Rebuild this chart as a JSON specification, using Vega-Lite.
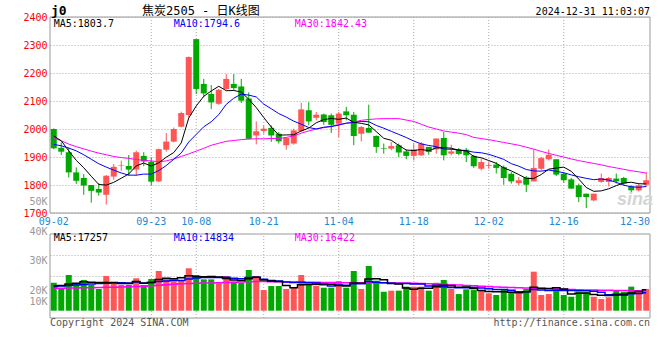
{
"$schema": "https://vega.github.io/schema/vega-lite/v6.json",
"width": 600, "height": 301,
"autosize": "none",
"padding": {"left": 50, "top": 17, "right": 10, "bottom": 42},
"background": "white",
"config": {"view": {"stroke": null}, "axis": {"labelFont": "DejaVu Sans Mono", "labelFontSize": 10, "ticks": false, "domain": false}, "text": {"font": "DejaVu Sans Mono", "fontSize": 10, "baseline": "middle"}},
"datasets": {
"k": [
{"d":"09-02","o":2000,"h":2002,"l":1928,"c":1931,"m5":1975,"m10":1945,"m30":1968,"v":23000,"vm5":20500,"vm10":20000,"vm30":18400},
{"d":"09-03","o":1933,"h":1952,"l":1907,"c":1919,"m5":1958,"m10":1940,"m30":1958,"v":18400,"vm5":20800,"vm10":20300,"vm30":18500},
{"d":"09-04","o":1917,"h":1934,"l":1827,"c":1845,"m5":1922,"m10":1932,"m30":1946,"v":29400,"vm5":22000,"vm10":20800,"vm30":18600},
{"d":"09-05","o":1845,"h":1863,"l":1804,"c":1815,"m5":1888,"m10":1922,"m30":1937,"v":22600,"vm5":22500,"vm10":21200,"vm30":18700},
{"d":"09-06","o":1825,"h":1839,"l":1765,"c":1798,"m5":1861.6,"m10":1908,"m30":1929,"v":25300,"vm5":23740,"vm10":21600,"vm30":18800},
{"d":"09-09","o":1800,"h":1800,"l":1737,"c":1779,"m5":1831.2,"m10":1892,"m30":1921,"v":21200,"vm5":23380,"vm10":22000,"vm30":18900},
{"d":"09-10","o":1786,"h":1807,"l":1762,"c":1773,"m5":1802,"m10":1876,"m30":1914,"v":17900,"vm5":23280,"vm10":22300,"vm30":19000},
{"d":"09-11","o":1765,"h":1836,"l":1730,"c":1833,"m5":1799.6,"m10":1864,"m30":1908,"v":28600,"vm5":23120,"vm10":22600,"vm30":19200},
{"d":"09-12","o":1830,"h":1875,"l":1819,"c":1865,"m5":1809.6,"m10":1853,"m30":1902,"v":22600,"vm5":23120,"vm10":22800,"vm30":19400},
{"d":"09-13","o":1869,"h":1887,"l":1851,"c":1871,"m5":1824.2,"m10":1842.9,"m30":1898,"v":21200,"vm5":22300,"vm10":23020,"vm30":19600},
{"d":"09-18","o":1868,"h":1907,"l":1833,"c":1855,"m5":1839.4,"m10":1835.3,"m30":1895,"v":21200,"vm5":22300,"vm10":22840,"vm30":19800},
{"d":"09-19","o":1855,"h":1923,"l":1833,"c":1917,"m5":1868.2,"m10":1835.1,"m30":1891,"v":26700,"vm5":24060,"vm10":23670,"vm30":20000},
{"d":"09-20","o":1904,"h":1917,"l":1867,"c":1884,"m5":1878.4,"m10":1839,"m30":1888,"v":21200,"vm5":22580,"vm10":22850,"vm30":20200},
{"d":"09-23","o":1883,"h":1899,"l":1798,"c":1812,"m5":1867.8,"m10":1838.7,"m30":1886,"v":26100,"vm5":23280,"vm10":23200,"vm30":20500},
{"d":"09-24","o":1813,"h":1930,"l":1810,"c":1928,"m5":1879.2,"m10":1851.7,"m30":1883,"v":32700,"vm5":25580,"vm10":23940,"vm30":20900},
{"d":"09-25","o":1926,"h":1986,"l":1919,"c":1955,"m5":1899.2,"m10":1869.3,"m30":1886,"v":26700,"vm5":26680,"vm10":24490,"vm30":21300},
{"d":"09-26","o":1955,"h":2005,"l":1952,"c":2000,"m5":1915.8,"m10":1892,"m30":1893,"v":24400,"vm5":26220,"vm10":25140,"vm30":21700},
{"d":"09-27","o":2008,"h":2062,"l":2006,"c":2057,"m5":1950.4,"m10":1914.4,"m30":1902,"v":25300,"vm5":27040,"vm10":24810,"vm30":22100},
{"d":"09-30","o":2050,"h":2259,"l":2042,"c":2257,"m5":2039.4,"m10":1953.6,"m30":1911,"v":34900,"vm5":28800,"vm10":26040,"vm30":22400},
{"d":"10-08","o":2321,"h":2321,"l":2125,"c":2143,"m5":2082.4,"m10":1980.8,"m30":1921,"v":29400,"vm5":28140,"vm10":26860,"vm30":22600},
{"d":"10-09","o":2161,"h":2179,"l":2113,"c":2127,"m5":2116.8,"m10":2008,"m30":1931,"v":25800,"vm5":27960,"vm10":27320,"vm30":22700},
{"d":"10-10","o":2125,"h":2157,"l":2071,"c":2095,"m5":2135.8,"m10":2025.8,"m30":1942,"v":25800,"vm5":28240,"vm10":27230,"vm30":22800},
{"d":"10-11","o":2090,"h":2143,"l":2087,"c":2140,"m5":2152.4,"m10":2051.4,"m30":1949,"v":22600,"vm5":27700,"vm10":27370,"vm30":23000},
{"d":"10-14","o":2143,"h":2196,"l":2140,"c":2179,"m5":2136.8,"m10":2088.1,"m30":1956,"v":28600,"vm5":26440,"vm10":27620,"vm30":23200},
{"d":"10-15","o":2161,"h":2196,"l":2137,"c":2146,"m5":2137.4,"m10":2109.9,"m30":1959,"v":23900,"vm5":25340,"vm10":26740,"vm30":23500},
{"d":"10-16","o":2152,"h":2179,"l":2093,"c":2101,"m5":2132.2,"m10":2124.5,"m30":1962,"v":23000,"vm5":24780,"vm10":26370,"vm30":23700},
{"d":"10-17","o":2109,"h":2131,"l":1963,"c":1965,"m5":2106.2,"m10":2121,"m30":1964,"v":33500,"vm5":26320,"vm10":27280,"vm30":23900},
{"d":"10-18","o":1977,"h":2027,"l":1945,"c":1992,"m5":2076.6,"m10":2114.5,"m30":1965,"v":28600,"vm5":27520,"vm10":27610,"vm30":24000},
{"d":"10-21","o":1993,"h":2013,"l":1983,"c":2001,"m5":2041,"m10":2088.9,"m30":1965,"v":17000,"vm5":25200,"vm10":25820,"vm30":24000},
{"d":"10-22","o":2004,"h":2013,"l":1954,"c":1977,"m5":2007.2,"m10":2072.3,"m30":1966,"v":20300,"vm5":24480,"vm10":24910,"vm30":23900},
{"d":"10-23","o":1983,"h":1989,"l":1948,"c":1956,"m5":1978.2,"m10":2055.2,"m30":1966,"v":20300,"vm5":23940,"vm10":24360,"vm30":23800},
{"d":"10-24","o":1942,"h":1971,"l":1926,"c":1968,"m5":1978.8,"m10":2042.5,"m30":1970,"v":17900,"vm5":20820,"vm10":23570,"vm30":23700},
{"d":"10-25","o":1948,"h":2001,"l":1944,"c":1995,"m5":1979.4,"m10":2028,"m30":1975,"v":19300,"vm5":18960,"vm10":23240,"vm30":23600},
{"d":"10-28","o":1992,"h":2094,"l":1989,"c":2070,"m5":1993.2,"m10":2017.1,"m30":1985,"v":29400,"vm5":21440,"vm10":23320,"vm30":23500},
{"d":"10-29","o":2067,"h":2096,"l":2013,"c":2027,"m5":2003.2,"m10":2005.2,"m30":1993,"v":21200,"vm5":21620,"vm10":23050,"vm30":23500},
{"d":"10-30","o":2040,"h":2061,"l":2031,"c":2051,"m5":2022.2,"m10":2000.2,"m30":2000,"v":20600,"vm5":21680,"vm10":22810,"vm30":23400},
{"d":"10-31","o":2052,"h":2055,"l":2015,"c":2025,"m5":2033.6,"m10":2006.2,"m30":2005,"v":18900,"vm5":21880,"vm10":21350,"vm30":23300},
{"d":"11-01","o":2049,"h":2055,"l":1986,"c":2015,"m5":2037.6,"m10":2008.5,"m30":2010,"v":18900,"vm5":21800,"vm10":20380,"vm30":23200},
{"d":"11-04","o":2019,"h":2061,"l":1971,"c":2055,"m5":2034.6,"m10":2013.9,"m30":2016,"v":24400,"vm5":20800,"vm10":21120,"vm30":23100},
{"d":"11-05","o":2063,"h":2079,"l":2031,"c":2049,"m5":2039,"m10":2021.1,"m30":2020,"v":18900,"vm5":20340,"vm10":20980,"vm30":23000},
{"d":"11-06","o":2051,"h":2061,"l":1942,"c":1975,"m5":2023.8,"m10":2023,"m30":2025,"v":32700,"vm5":22760,"vm10":22220,"vm30":23000},
{"d":"11-07","o":1983,"h":2011,"l":1956,"c":2007,"m5":2020.2,"m10":2026.9,"m30":2031,"v":17900,"vm5":22560,"vm10":22220,"vm30":23000},
{"d":"11-08","o":2004,"h":2087,"l":1987,"c":1987,"m5":2014.6,"m10":2026.1,"m30":2034,"v":36800,"vm5":26140,"vm10":23970,"vm30":23100},
{"d":"11-11","o":1975,"h":1977,"l":1915,"c":1936,"m5":1990.8,"m10":2012.7,"m30":2036,"v":24700,"vm5":26200,"vm10":23500,"vm30":23100},
{"d":"11-12","o":1931,"h":1948,"l":1912,"c":1929,"m5":1966.8,"m10":2002.9,"m30":2037,"v":15600,"vm5":25540,"vm10":22940,"vm30":23000},
{"d":"11-13","o":1930,"h":1954,"l":1924,"c":1939,"m5":1959.6,"m10":1991.7,"m30":2037,"v":16500,"vm5":22300,"vm10":22530,"vm30":22900},
{"d":"11-14","o":1942,"h":1948,"l":1900,"c":1916,"m5":1941.4,"m10":1980.8,"m30":2037,"v":16500,"vm5":22020,"vm10":22290,"vm30":22800},
{"d":"11-15","o":1920,"h":1927,"l":1892,"c":1904,"m5":1924.8,"m10":1969.7,"m30":2032,"v":19800,"vm5":18620,"vm10":22380,"vm30":22700},
{"d":"11-18","o":1904,"h":1948,"l":1888,"c":1927,"m5":1923,"m10":1956.9,"m30":2027,"v":19800,"vm5":17640,"vm10":21920,"vm30":22600},
{"d":"11-19","o":1906,"h":1954,"l":1904,"c":1948,"m5":1926.8,"m10":1946.8,"m30":2017,"v":19800,"vm5":18480,"vm10":22010,"vm30":22400},
{"d":"11-20","o":1936,"h":1936,"l":1908,"c":1918,"m5":1922.6,"m10":1941.1,"m30":2007,"v":16500,"vm5":18480,"vm10":20390,"vm30":22200},
{"d":"11-21","o":1927,"h":1966,"l":1912,"c":1966,"m5":1932.6,"m10":1937,"m30":2000,"v":23000,"vm5":19780,"vm10":20900,"vm30":22000},
{"d":"11-22","o":1968,"h":1989,"l":1888,"c":1906,"m5":1933,"m10":1928.9,"m30":1993,"v":25300,"vm5":20880,"vm10":19750,"vm30":21700},
{"d":"11-25","o":1912,"h":1944,"l":1906,"c":1920,"m5":1931.6,"m10":1927.3,"m30":1989,"v":17900,"vm5":20500,"vm10":19070,"vm30":21400},
{"d":"11-26","o":1926,"h":1932,"l":1906,"c":1911,"m5":1924.2,"m10":1925.5,"m30":1985,"v":13700,"vm5":19280,"vm10":18880,"vm30":21100},
{"d":"11-27","o":1926,"h":1932,"l":1882,"c":1906,"m5":1921.8,"m10":1922.2,"m30":1980,"v":17600,"vm5":19500,"vm10":18990,"vm30":20800},
{"d":"11-28","o":1904,"h":1908,"l":1861,"c":1867,"m5":1902,"m10":1917.3,"m30":1970,"v":17000,"vm5":18300,"vm10":19040,"vm30":20500},
{"d":"11-29","o":1858,"h":1894,"l":1852,"c":1882,"m5":1897.2,"m10":1915.1,"m30":1966,"v":16500,"vm5":16540,"vm10":18710,"vm30":20200},
{"d":"12-02","o":1868,"h":1882,"l":1858,"c":1871,"m5":1887.4,"m10":1909.5,"m30":1962,"v":14300,"vm5":15820,"vm10":18160,"vm30":19900},
{"d":"12-03","o":1873,"h":1882,"l":1841,"c":1861,"m5":1877.4,"m10":1900.8,"m30":1957,"v":12900,"vm5":15660,"vm10":17470,"vm30":19600},
{"d":"12-04","o":1864,"h":1870,"l":1801,"c":1825,"m5":1861.2,"m10":1891.5,"m30":1952,"v":17000,"vm5":15540,"vm10":17520,"vm30":19300},
{"d":"12-05","o":1840,"h":1846,"l":1805,"c":1813,"m5":1850.4,"m10":1876.2,"m30":1947,"v":15600,"vm5":15260,"vm10":16780,"vm30":19000},
{"d":"12-06","o":1807,"h":1829,"l":1799,"c":1817,"m5":1837.4,"m10":1867.3,"m30":1942,"v":14300,"vm5":14820,"vm10":15680,"vm30":18800},
{"d":"12-09","o":1827,"h":1832,"l":1775,"c":1801,"m5":1823.4,"m10":1855.4,"m30":1935,"v":17900,"vm5":15540,"vm10":15680,"vm30":18600},
{"d":"12-10","o":1813,"h":1927,"l":1813,"c":1861,"m5":1823.4,"m10":1850.4,"m30":1928,"v":32100,"vm5":19380,"vm10":17520,"vm30":18400},
{"d":"12-11","o":1858,"h":1900,"l":1852,"c":1896,"m5":1837.6,"m10":1849.4,"m30":1920,"v":12900,"vm5":18560,"vm10":17050,"vm30":18200},
{"d":"12-12","o":1892,"h":1927,"l":1888,"c":1908,"m5":1856.6,"m10":1853.5,"m30":1913,"v":13700,"vm5":18180,"vm10":16720,"vm30":18000},
{"d":"12-13","o":1892,"h":1892,"l":1832,"c":1837,"m5":1860.6,"m10":1849,"m30":1906,"v":17900,"vm5":18900,"vm10":16860,"vm30":17800},
{"d":"12-16","o":1840,"h":1846,"l":1808,"c":1817,"m5":1863.8,"m10":1843.6,"m30":1900,"v":12900,"vm5":17900,"vm10":16720,"vm30":17600},
{"d":"12-17","o":1820,"h":1825,"l":1787,"c":1787,"m5":1849,"m10":1836.2,"m30":1893,"v":11500,"vm5":13780,"vm10":16580,"vm30":17400},
{"d":"12-18","o":1799,"h":1805,"l":1739,"c":1757,"m5":1821.2,"m10":1829.4,"m30":1887,"v":15600,"vm5":14320,"vm10":16440,"vm30":17200},
{"d":"12-19","o":1769,"h":1769,"l":1718,"c":1757,"m5":1791,"m10":1823.8,"m30":1882,"v":15100,"vm5":14600,"vm10":16390,"vm30":17100},
{"d":"12-20","o":1745,"h":1769,"l":1742,"c":1769,"m5":1777.4,"m10":1819,"m30":1877,"v":11500,"vm5":13320,"vm10":16110,"vm30":17000},
{"d":"12-23","o":1811,"h":1841,"l":1808,"c":1825,"m5":1779,"m10":1821.4,"m30":1872,"v":9600,"vm5":12660,"vm10":15280,"vm30":16900},
{"d":"12-24","o":1811,"h":1829,"l":1795,"c":1825,"m5":1786.6,"m10":1817.8,"m30":1866,"v":11000,"vm5":12560,"vm10":13170,"vm30":16800},
{"d":"12-25","o":1823,"h":1841,"l":1805,"c":1813,"m5":1797.8,"m10":1809.5,"m30":1861,"v":17000,"vm5":12840,"vm10":13580,"vm30":16700},
{"d":"12-26","o":1825,"h":1829,"l":1799,"c":1805,"m5":1807.4,"m10":1799.2,"m30":1856,"v":15600,"vm5":12940,"vm10":13770,"vm30":16600},
{"d":"12-27","o":1795,"h":1799,"l":1775,"c":1781,"m5":1809.8,"m10":1793.6,"m30":1851,"v":19800,"vm5":14600,"vm10":13960,"vm30":16500},
{"d":"12-30","o":1781,"h":1805,"l":1777,"c":1799,"m5":1804.6,"m10":1791.8,"m30":1847,"v":15600,"vm5":15800,"vm10":14230,"vm30":16450},
{"d":"12-31","o":1801,"h":1846,"l":1793,"c":1817,"m5":1803.7,"m10":1794.6,"m30":1842.43,"v":17900,"vm5":17257,"vm10":14834,"vm30":16422}
],
"grid": [{"d":"09-23"},{"d":"10-08"},{"d":"10-21"},{"d":"11-04"},{"d":"11-18"},{"d":"12-02"},{"d":"12-16"}],
"labels": [{"d":"09-02"},{"d":"09-23"},{"d":"10-08"},{"d":"10-21"},{"d":"11-04"},{"d":"11-18"},{"d":"12-02"},{"d":"12-16"}],
"one": [{"n": 1}]
},
"layer": [
    {"data": {"name": "one"}, "mark": {"type": "rect", "fillOpacity": 0, "stroke": "#999999", "strokeWidth": 1},
     "encoding": {"x": {"datum": "09-02", "type": "ordinal", "bandPosition": 0, "scale": {"type": "band", "paddingInner": 0, "paddingOuter": 0}, "axis": null}, "x2": {"datum": "12-31", "bandPosition": 1},
       "y": {"datum": 2400, "type": "quantitative", "scale": {"domain": [1700, 2400], "range": [196, 0], "zero": false, "nice": false},
         "axis": {"title": null, "orient": "left", "values": [1700,1800,1900,2000,2100,2200,2300,2400], "format": "d", "labelColor": "#ff0000", "labelPadding": 3, "labelOverlap": false, "grid": true, "gridColor": "#aaaaaa", "gridDash": [1, 2]}},
       "y2": {"datum": 1700}}},
    {"data": {"name": "one"}, "mark": {"type": "rect", "fillOpacity": 0, "stroke": "#999999", "strokeWidth": 1},
     "encoding": {"x": {"datum": "09-02", "type": "ordinal", "bandPosition": 0, "axis": null}, "x2": {"datum": "12-31", "bandPosition": 1},
       "y": {"datum": 4, "type": "quantitative", "scale": {"domain": [0, 4], "range": [301, 217], "zero": false, "nice": false},
         "axis": {"title": null, "orient": "left", "values": [1, 2, 3], "labels": false, "grid": true, "gridColor": "#aaaaaa", "gridDash": [1, 2]}},
       "y2": {"datum": 0}}},
    {"data": {"name": "grid"}, "mark": {"type": "rule", "color": "#aaaaaa", "strokeDash": [1, 2]},
     "encoding": {"x": {"field": "d", "type": "ordinal", "axis": null},
       "y": {"datum": 1700, "type": "quantitative", "scale": {"domain": [1700, 2400], "range": [196, 0], "zero": false, "nice": false}, "axis": null}, "y2": {"datum": 2400}}},
    {"data": {"name": "grid"}, "mark": {"type": "rule", "color": "#aaaaaa", "strokeDash": [1, 2]},
     "encoding": {"x": {"field": "d", "type": "ordinal", "axis": null}, "y": {"datum": 0, "type": "quantitative", "scale": {"domain": [0, 4], "range": [301, 217], "zero": false, "nice": false}, "axis": null}, "y2": {"datum": 4}}},
    {"data": {"name": "labels"}, "mark": {"type": "text", "align": "center", "color": "#1e88d4"},
     "encoding": {"x": {"field": "d", "type": "ordinal", "axis": null}, "text": {"field": "d"},
       "y": {"datum": 4.56, "type": "quantitative", "scale": {"domain": [0, 4], "range": [301, 217], "zero": false, "nice": false}, "axis": null}}},
    {"data": {"name": "one"}, "mark": {"type": "text", "align": "right", "color": "#1e88d4", "text": "12-30"},
     "encoding": {"x": {"datum": "12-31", "type": "ordinal", "bandPosition": 1, "axis": null},
       "y": {"datum": 4.56, "type": "quantitative", "scale": {"domain": [0, 4], "range": [301, 217], "zero": false, "nice": false}, "axis": null}}},
    {"data": {"name": "k"}, "mark": {"type": "rule", "strokeWidth": 1},
     "encoding": {"x": {"field": "d", "type": "ordinal", "scale": {"type": "band", "paddingInner": 0, "paddingOuter": 0}, "axis": null},
       "y": {"field": "l", "type": "quantitative", "scale": {"domain": [1700, 2400], "range": [196, 0], "zero": false, "nice": false}, "axis": null},
       "y2": {"field": "h"},
       "color": {"condition": {"test": "datum.c >= datum.o", "value": "#ff5555"}, "value": "#00a800"}}},
    {"data": {"name": "k"}, "mark": {"type": "bar", "size": 6},
     "encoding": {"x": {"field": "d", "type": "ordinal", "axis": null},
       "y": {"field": "o", "type": "quantitative", "scale": {"domain": [1700, 2400], "range": [196, 0], "zero": false, "nice": false}, "axis": null}, "y2": {"field": "c"},
       "color": {"condition": {"test": "datum.c >= datum.o", "value": "#ff5555"}, "value": "#00a800"}}},
    {"data": {"name": "k"}, "mark": {"type": "line", "color": "#ff00ff", "strokeWidth": 1},
     "encoding": {"x": {"field": "d", "type": "ordinal", "axis": null}, "y": {"field": "m30", "type": "quantitative", "scale": {"domain": [1700, 2400], "range": [196, 0], "zero": false, "nice": false}, "axis": null}}},
    {"data": {"name": "k"}, "mark": {"type": "line", "color": "#0000ff", "strokeWidth": 1},
     "encoding": {"x": {"field": "d", "type": "ordinal", "axis": null}, "y": {"field": "m10", "type": "quantitative", "scale": {"domain": [1700, 2400], "range": [196, 0], "zero": false, "nice": false}, "axis": null}}},
    {"data": {"name": "k"}, "mark": {"type": "line", "color": "#000000", "strokeWidth": 1},
     "encoding": {"x": {"field": "d", "type": "ordinal", "axis": null}, "y": {"field": "m5", "type": "quantitative", "scale": {"domain": [1700, 2400], "range": [196, 0], "zero": false, "nice": false}, "axis": null}}},
    {"data": {"name": "k"}, "mark": {"type": "bar", "size": 6},
     "encoding": {"x": {"field": "d", "type": "ordinal", "axis": null}, "y": {"field": "v", "type": "quantitative", "scale": {"domain": [0, 50000], "range": [293.7, 232.95], "zero": false, "nice": false}, "axis": null}, "y2": {"datum": 0},
       "color": {"condition": {"test": "datum.c >= datum.o", "value": "#ff5555"}, "value": "#00a800"}}},
    {"data": {"name": "k"}, "mark": {"type": "line", "color": "#ff00ff", "strokeWidth": 1.5, "interpolate": "step"},
     "encoding": {"x": {"field": "d", "type": "ordinal", "axis": null}, "y": {"field": "vm30", "type": "quantitative", "scale": {"domain": [0, 50000], "range": [293.7, 232.95], "zero": false, "nice": false}, "axis": null}}},
    {"data": {"name": "k"}, "mark": {"type": "line", "color": "#0000ff", "strokeWidth": 1.5, "interpolate": "step"},
     "encoding": {"x": {"field": "d", "type": "ordinal", "axis": null}, "y": {"field": "vm10", "type": "quantitative", "scale": {"domain": [0, 50000], "range": [293.7, 232.95], "zero": false, "nice": false}, "axis": null}}},
    {"data": {"name": "k"}, "mark": {"type": "line", "color": "#000000", "strokeWidth": 1.5, "interpolate": "step"},
     "encoding": {"x": {"field": "d", "type": "ordinal", "axis": null}, "y": {"field": "vm5", "type": "quantitative", "scale": {"domain": [0, 50000], "range": [293.7, 232.95], "zero": false, "nice": false}, "axis": null}}},
    {"data": {"name": "one"}, "mark": {"type": "text", "align": "left", "color": "#000000", "text": "MA5:1803.7"},
     "encoding": {"x": {"datum": "09-02", "type": "ordinal", "axis": null}, "y": {"datum": 2374, "type": "quantitative", "scale": {"domain": [1700, 2400], "range": [196, 0], "zero": false, "nice": false}, "axis": null}}},
    {"data": {"name": "one"}, "mark": {"type": "text", "align": "left", "color": "#0000ff", "text": "MA10:1794.6"},
     "encoding": {"x": {"datum": "09-26", "type": "ordinal", "axis": null}, "y": {"datum": 2374, "type": "quantitative", "scale": {"domain": [1700, 2400], "range": [196, 0], "zero": false, "nice": false}, "axis": null}}},
    {"data": {"name": "one"}, "mark": {"type": "text", "align": "left", "color": "#ff00ff", "text": "MA30:1842.43", "dx": 1},
     "encoding": {"x": {"datum": "10-25", "type": "ordinal", "axis": null}, "y": {"datum": 2374, "type": "quantitative", "scale": {"domain": [1700, 2400], "range": [196, 0], "zero": false, "nice": false}, "axis": null}}},
    {"data": {"name": "one"}, "mark": {"type": "text", "align": "left", "color": "#000000", "text": "j0", "fontWeight": "bold", "fontSize": 13, "dx": 1},
     "encoding": {"x": {"datum": "09-02", "type": "ordinal", "bandPosition": 0, "axis": null}, "y": {"datum": 2421, "type": "quantitative", "scale": {"domain": [1700, 2400], "range": [196, 0], "zero": false, "nice": false}, "axis": null}}},
    {"data": {"name": "one"}, "mark": {"type": "text", "align": "left", "color": "#000000", "text": "焦炭2505 - 日K线图", "font": "DejaVu Sans Mono, Noto Sans CJK SC", "fontSize": 12, "dx": 2},
     "encoding": {"x": {"datum": "09-20", "type": "ordinal", "bandPosition": 0, "axis": null}, "y": {"datum": 2423, "type": "quantitative", "scale": {"domain": [1700, 2400], "range": [196, 0], "zero": false, "nice": false}, "axis": null}}},
    {"data": {"name": "one"}, "mark": {"type": "text", "align": "right", "color": "#000000", "text": "2024-12-31 11:03:07"},
     "encoding": {"x": {"datum": "12-31", "type": "ordinal", "bandPosition": 1, "axis": null}, "y": {"datum": 2419, "type": "quantitative", "scale": {"domain": [1700, 2400], "range": [196, 0], "zero": false, "nice": false}, "axis": null}}},
    {"data": {"name": "one"}, "mark": {"type": "text", "align": "center", "color": "#d4d4d4", "text": "sina", "font": "Liberation Sans", "fontSize": 18, "fontStyle": "italic", "fontWeight": "bold"},
     "encoding": {"x": {"datum": "12-30", "type": "ordinal", "bandPosition": 0, "axis": null}, "y": {"datum": 1745, "type": "quantitative", "scale": {"domain": [1700, 2400], "range": [196, 0], "zero": false, "nice": false}, "axis": null}}},
    {"data": {"name": "one"}, "mark": {"type": "text", "align": "left", "color": "#000000", "text": "MA5:17257"},
     "encoding": {"x": {"datum": "09-02", "type": "ordinal", "axis": null}, "y": {"datum": 3.8, "type": "quantitative", "scale": {"domain": [0, 4], "range": [301, 217], "zero": false, "nice": false}, "axis": null}}},
    {"data": {"name": "one"}, "mark": {"type": "text", "align": "left", "color": "#0000ff", "text": "MA10:14834"},
     "encoding": {"x": {"datum": "09-26", "type": "ordinal", "axis": null}, "y": {"datum": 3.8, "type": "quantitative", "scale": {"domain": [0, 4], "range": [301, 217], "zero": false, "nice": false}, "axis": null}}},
    {"data": {"name": "one"}, "mark": {"type": "text", "align": "left", "color": "#ff00ff", "text": "MA30:16422", "dx": 1},
     "encoding": {"x": {"datum": "10-25", "type": "ordinal", "axis": null}, "y": {"datum": 3.8, "type": "quantitative", "scale": {"domain": [0, 4], "range": [301, 217], "zero": false, "nice": false}, "axis": null}}},
    {"data": {"name": "one"}, "mark": {"type": "text", "align": "left", "color": "#555555", "text": "Copyright 2024 SINA.COM"},
     "encoding": {"x": {"datum": "09-02", "type": "ordinal", "bandPosition": 0, "axis": null}, "y": {"datum": -0.25, "type": "quantitative", "scale": {"domain": [0, 4], "range": [301, 217], "zero": false, "nice": false}, "axis": null}}},
    {"data": {"name": "one"}, "mark": {"type": "text", "align": "right", "color": "#555555", "text": "http://finance.sina.com.cn"},
     "encoding": {"x": {"datum": "12-31", "type": "ordinal", "bandPosition": 1, "axis": null}, "y": {"datum": -0.25, "type": "quantitative", "scale": {"domain": [0, 4], "range": [301, 217], "zero": false, "nice": false}, "axis": null}}},
    {"data": {"name": "one"}, "mark": {"type": "point", "opacity": 0},
     "encoding": {"x": {"datum": "09-02", "type": "ordinal", "axis": null},
       "y": {"datum": 30000, "type": "quantitative", "scale": {"domain": [10000, 50000], "range": [302.5, 184.5], "zero": false, "nice": false},
         "axis": {"title": null, "orient": "left", "values": [10000, 20000, 30000, 40000, 50000], "labelExpr": "(datum.value / 1000) + 'K'", "labelColor": "#999999", "labelPadding": 3, "labelOverlap": false, "grid": false,
           "labelOffset": {"condition": {"test": "datum.value == 10000", "value": -18}, "value": 0}}}}}
],
"resolve": {"scale": {"y": "independent"}, "axis": {"y": "independent"}}
}
